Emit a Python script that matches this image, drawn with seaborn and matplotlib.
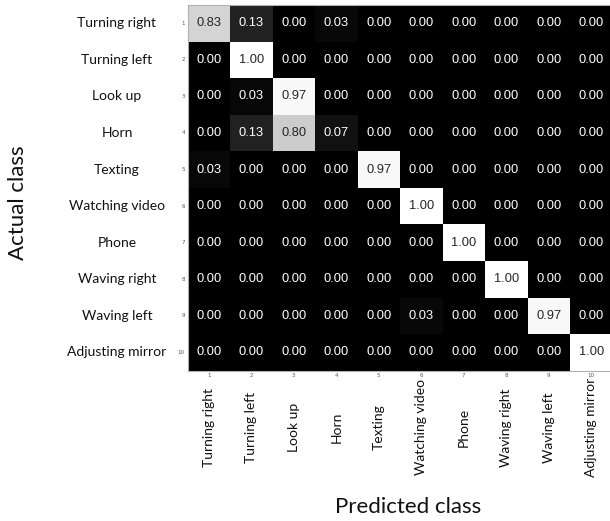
import numpy as np
import pandas as pd
import matplotlib
matplotlib.use("Agg")
import matplotlib.pyplot as plt
import seaborn as sns

classes = ["Turning right", "Turning left", "Look up", "Horn", "Texting",
           "Watching video", "Phone", "Waving right", "Waving left",
           "Adjusting mirror"]
class_ids = [str(i) for i in range(1, 11)]

# normalised confusion matrix, one row per actual class
row_turning_right = [0.83, 0.13, 0.00, 0.03, 0.00, 0.00, 0.00, 0.00, 0.00, 0.00]
row_turning_left = [0.00, 1.00, 0.00, 0.00, 0.00, 0.00, 0.00, 0.00, 0.00, 0.00]
row_look_up = [0.00, 0.03, 0.97, 0.00, 0.00, 0.00, 0.00, 0.00, 0.00, 0.00]
row_horn = [0.00, 0.13, 0.80, 0.07, 0.00, 0.00, 0.00, 0.00, 0.00, 0.00]
row_texting = [0.03, 0.00, 0.00, 0.00, 0.97, 0.00, 0.00, 0.00, 0.00, 0.00]
row_watching_video = [0.00, 0.00, 0.00, 0.00, 0.00, 1.00, 0.00, 0.00, 0.00, 0.00]
row_phone = [0.00, 0.00, 0.00, 0.00, 0.00, 0.00, 1.00, 0.00, 0.00, 0.00]
row_waving_right = [0.00, 0.00, 0.00, 0.00, 0.00, 0.00, 0.00, 1.00, 0.00, 0.00]
row_waving_left = [0.00, 0.00, 0.00, 0.00, 0.00, 0.03, 0.00, 0.00, 0.97, 0.00]
row_adjusting_mirror = [0.00, 0.00, 0.00, 0.00, 0.00, 0.00, 0.00, 0.00, 0.00, 1.00]

matrix = pd.DataFrame(
    [row_turning_right, row_turning_left, row_look_up, row_horn, row_texting,
     row_watching_video, row_phone, row_waving_right, row_waving_left,
     row_adjusting_mirror],
    index=class_ids, columns=class_ids)

sns.set_theme(style="white")
label_font = ["Lato", "DejaVu Sans"]

fig = plt.figure(figsize=(6.10, 5.21), dpi=100)
W, H = 610, 521
ax = fig.add_axes([187.5 / W, 1 - 370.7 / H, 425 / W, 365.7 / H])

sns.heatmap(matrix, ax=ax, cmap="gray", vmin=0, vmax=1, annot=True,
            fmt=".2f", cbar=False, square=False,
            annot_kws={"fontsize": 9.3, "family": "Liberation Sans"})

ax.tick_params(axis="both", which="both", direction="in", length=3,
               width=0.6, color="#9a9a9a", labelsize=4, labelcolor="#555555",
               pad=2, top=True, bottom=True, left=True, right=True)
ax.set_xticklabels(class_ids, rotation=0)
ax.set_yticklabels(class_ids, rotation=0)
ax.set_xlabel("")
ax.set_ylabel("")
for side, sp in ax.spines.items():
    sp.set_visible(True)
    sp.set_color("#b0b0b0")
    sp.set_linewidth(0.8)

# class names beside the rows and under the columns
for i, name in enumerate(classes):
    ax.text(-0.166, i + 0.5, name, transform=ax.get_yaxis_transform(),
            ha="center", va="center", fontsize=10, family=label_font,
            color="#111111")
    ax.text(i + 0.5, -0.155, name, transform=ax.get_xaxis_transform(),
            ha="center", va="center", rotation=90, fontsize=10,
            family=label_font, color="#111111")

fig.text(18 / W, 1 - 203 / H, "Actual class", rotation=90, ha="center",
         va="center", fontsize=16, family=label_font, color="#111111")
fig.text(408 / W, 1 - 507 / H, "Predicted class", ha="center", va="center",
         fontsize=16, family=label_font, color="#111111")

fig.savefig("out.png", dpi=100)
